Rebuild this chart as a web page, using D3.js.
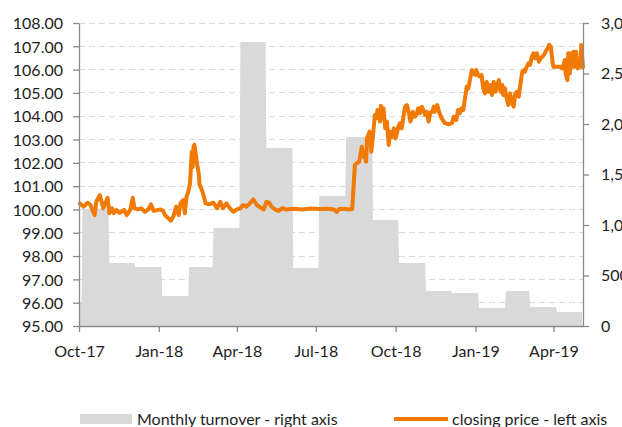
<!DOCTYPE html>
<html>
<head>
<meta charset="utf-8">
<script src="https://cdn.jsdelivr.net/npm/d3@7/dist/d3.min.js"></script>
<style>
  html, body { margin: 0; padding: 0; background: #ffffff; }
  svg { display: block; font-family: Lato, "Open Sans", sans-serif; }
</style>
</head>
<body>
<svg id="chart" width="622" height="427"></svg>
<script>
// ---------- DATA ----------
const turnoverMonths = ["2017-09","2017-10","2017-11","2017-12","2018-01","2018-02","2018-03","2018-04","2018-05","2018-06","2018-07","2018-08","2018-09","2018-10","2018-11","2018-12","2019-01","2019-02","2019-03","2019-04"];
const turnoverValues = [238,1160,624,584,297,584,970,2812,1762,574,1287,1871,1049,624,346,327,178,346,188,139];

const priceDates = [
 "2017-10-02","2017-10-06","2017-10-11","2017-10-14","2017-10-19","2017-10-21","2017-10-25","2017-10-29",
 "2017-11-01","2017-11-03","2017-11-05","2017-11-08","2017-11-10","2017-11-13","2017-11-17","2017-11-22","2017-11-25","2017-11-29",
 "2017-12-02","2017-12-04","2017-12-08","2017-12-12","2017-12-16","2017-12-20","2017-12-23","2017-12-26","2017-12-30",
 "2018-01-03","2018-01-06","2018-01-08","2018-01-12","2018-01-15","2018-01-18","2018-01-21","2018-01-24","2018-01-26","2018-01-29","2018-01-31",
 "2018-02-02","2018-02-04","2018-02-06","2018-02-07","2018-02-08","2018-02-09","2018-02-10","2018-02-11","2018-02-13","2018-02-14","2018-02-16","2018-02-17","2018-02-19","2018-02-22","2018-02-24","2018-02-28",
 "2018-03-05","2018-03-09","2018-03-13","2018-03-16","2018-03-20","2018-03-24","2018-03-28",
 "2018-04-01","2018-04-05","2018-04-08","2018-04-12","2018-04-16","2018-04-20","2018-04-24","2018-04-28",
 "2018-05-02","2018-05-05","2018-05-08","2018-05-11","2018-05-15","2018-05-19","2018-05-23","2018-05-28",
 "2018-06-05","2018-06-15","2018-06-25","2018-07-05","2018-07-15","2018-07-22","2018-07-25","2018-07-28",
 "2018-08-03","2018-08-08","2018-08-12","2018-08-15","2018-08-17","2018-08-20","2018-08-23","2018-08-24","2018-08-25","2018-08-28","2018-08-29",
 "2018-09-01","2018-09-03","2018-09-05","2018-09-07","2018-09-09","2018-09-10","2018-09-13","2018-09-14","2018-09-16","2018-09-17","2018-09-19","2018-09-21","2018-09-23","2018-09-25","2018-09-27","2018-09-29",
 "2018-10-01","2018-10-03","2018-10-04","2018-10-06","2018-10-08","2018-10-10","2018-10-12","2018-10-14","2018-10-16","2018-10-18","2018-10-20","2018-10-21","2018-10-23","2018-10-25","2018-10-27","2018-10-29","2018-10-31",
 "2018-11-02","2018-11-04","2018-11-06","2018-11-08","2018-11-10","2018-11-12","2018-11-14","2018-11-15","2018-11-18","2018-11-20","2018-11-23","2018-11-27",
 "2018-12-01","2018-12-05","2018-12-07","2018-12-10","2018-12-12","2018-12-14","2018-12-16","2018-12-18","2018-12-20","2018-12-22","2018-12-24","2018-12-26","2018-12-28","2018-12-30",
 "2019-01-01","2019-01-02","2019-01-04","2019-01-06","2019-01-08","2019-01-10","2019-01-12","2019-01-14","2019-01-16","2019-01-18","2019-01-20","2019-01-22","2019-01-24","2019-01-26","2019-01-28","2019-01-30",
 "2019-02-01","2019-02-02","2019-02-04","2019-02-06","2019-02-08","2019-02-10","2019-02-12","2019-02-14","2019-02-16","2019-02-18","2019-02-20","2019-02-22","2019-02-24","2019-02-26","2019-02-27",
 "2019-03-01","2019-03-03","2019-03-05","2019-03-07","2019-03-09","2019-03-11","2019-03-13","2019-03-15","2019-03-17","2019-03-19","2019-03-21","2019-03-23","2019-03-25","2019-03-27","2019-03-29","2019-03-30","2019-03-31",
 "2019-04-01","2019-04-05","2019-04-09","2019-04-11","2019-04-12","2019-04-14","2019-04-15","2019-04-17","2019-04-18","2019-04-20","2019-04-21","2019-04-23","2019-04-24","2019-04-26","2019-04-27","2019-04-29","2019-04-30",
 "2019-05-02","2019-05-03","2019-05-05"
];
const priceValues = [
 100.26,100.12,100.29,100.20,99.76,100.33,100.62,100.05,
 100.33,100.50,99.84,100.05,99.84,99.98,99.85,99.98,99.76,99.98,
 100.50,100.05,100.00,100.05,99.90,100.00,100.22,99.94,99.97,
 100.00,99.94,99.76,99.62,99.52,99.72,100.12,99.76,100.26,100.40,99.84,
 100.55,100.76,101.12,101.82,102.48,101.82,102.69,102.77,102.27,101.98,101.55,101.05,100.91,100.55,100.26,100.22,
 100.29,100.05,100.33,100.05,100.26,100.05,99.90,
 100.00,100.05,100.19,100.12,100.26,100.43,100.19,100.09,
 100.00,100.33,100.29,100.12,100.00,99.94,100.05,100.00,
 100.03,100.00,100.04,100.02,100.03,100.00,99.90,100.02,
 100.03,100.00,100.02,101.90,101.98,102.05,102.69,102.27,102.48,102.05,103.05,
 103.34,102.48,103.19,104.05,103.91,104.27,103.77,104.45,103.91,104.34,103.48,103.77,102.77,103.34,103.12,103.48,
 103.05,103.34,103.55,103.70,103.48,103.98,104.41,104.48,104.19,103.77,103.98,104.19,103.98,104.05,104.34,104.13,104.41,
 104.27,104.05,104.19,103.77,104.15,104.19,104.41,104.19,104.48,104.19,103.91,103.70,
 103.65,103.70,103.98,103.84,104.27,104.13,104.34,104.27,104.77,105.27,105.20,105.63,105.98,105.84,
 105.77,105.98,105.77,105.70,105.77,105.20,104.98,105.48,105.05,105.34,104.91,105.48,105.05,105.27,105.55,105.05,
 105.34,104.91,105.20,104.77,104.48,104.98,104.62,104.41,104.98,105.05,104.84,105.41,105.91,105.98,105.91,
 106.12,106.27,106.20,106.55,106.70,106.48,106.70,106.34,106.48,106.55,106.63,106.77,106.91,107.06,106.98,106.63,106.27,
 106.12,106.12,106.12,106.05,106.12,106.41,105.84,105.55,106.70,105.84,106.70,106.12,106.77,106.12,106.77,106.05,106.41,
 106.12,107.06,106.10
];

const leftTicks = [95,96,97,98,99,100,101,102,103,104,105,106,107,108];
const rightTicks = [0,500,1000,1500,2000,2500,3000];
const xTickDates = ["2017-10-01","2018-01-01","2018-04-01","2018-07-01","2018-10-01","2019-01-01","2019-04-01"];
const xDomain = ["2017-10-01","2019-05-05"];
const legendLabels = ["Monthly turnover - right axis", "closing price - left axis"];

// ---------- SETUP ----------
const parseDay = d3.timeParse("%Y-%m-%d");
const parseMonth = d3.timeParse("%Y-%m");
const plot = { left: 79, right: 583, top: 23, bottom: 326 };
const textColor = "#1e1e1e";
const axisColor = "#8a8a8a";
const gridColor = "#d9d9d9";
const areaColor = "#d9d9d9";
const lineColor = "#f07a04";

const svg = d3.select("#chart");

const x = d3.scaleTime().domain(xDomain.map(parseDay)).range([plot.left, plot.right]);
const yL = d3.scaleLinear().domain([95,108]).range([plot.bottom, plot.top]);
const yR = d3.scaleLinear().domain([0,3000]).range([plot.bottom, plot.top]);

svg.append("defs").append("clipPath").attr("id","clip")
  .append("rect").attr("x", plot.left).attr("y", plot.top)
  .attr("width", plot.right - plot.left).attr("height", plot.bottom - plot.top);

// gridlines
svg.append("g").selectAll("line")
  .data(leftTicks.filter(t => t > 95))
  .join("line")
  .attr("x1", plot.left).attr("x2", plot.right)
  .attr("y1", d => yL(d)).attr("y2", d => yL(d))
  .attr("stroke", gridColor).attr("stroke-width", 1)
  .attr("stroke-dasharray", "6,4")
  .attr("shape-rendering", "crispEdges");

// turnover step area (monthly values, each shown for its month)
const turnoverPts = [];
turnoverMonths.forEach((m, i) => {
  const start = d3.timeDay.offset(parseMonth(m), 4);
  const end = d3.timeDay.offset(d3.timeMonth.offset(parseMonth(m), 1), 3);
  turnoverPts.push({ date: start, v: turnoverValues[i] });
  turnoverPts.push({ date: end, v: turnoverValues[i] });
});
const area = d3.area()
  .x(d => x(d.date)).y0(plot.bottom).y1(d => yR(d.v));
svg.append("path")
  .datum(turnoverPts)
  .attr("clip-path", "url(#clip)")
  .attr("fill", areaColor)
  .attr("d", area);

// price line
const priceData = priceDates.map((d, i) => ({ date: parseDay(d), v: priceValues[i] }));
const line = d3.line().x(d => x(d.date)).y(d => yL(d.v));
svg.append("path")
  .datum(priceData)
  .attr("fill", "none")
  .attr("stroke", lineColor)
  .attr("stroke-width", 4)
  .attr("stroke-linejoin", "round")
  .attr("stroke-linecap", "round")
  .attr("d", line);

// axes
function styleAxis(g) {
  g.select(".domain").attr("stroke", axisColor).attr("stroke-width", 1.3);
  g.selectAll(".tick line").attr("stroke", axisColor).attr("stroke-width", 1.3);
  g.selectAll(".tick text").attr("fill", textColor).style("font-size", "16px")
    .style("font-family", "Lato, 'Open Sans', sans-serif");
}

const gL = svg.append("g").attr("transform", `translate(${plot.left},0)`)
  .call(d3.axisLeft(yL).tickValues(leftTicks).tickFormat(d3.format(".2f"))
    .tickSize(6).tickSizeOuter(0).tickPadding(10));
styleAxis(gL);
gL.selectAll(".tick text").attr("dy", "0.36em");

const gR = svg.append("g").attr("transform", `translate(${plot.right},0)`)
  .call(d3.axisRight(yR).tickValues(rightTicks).tickFormat(d3.format(","))
    .tickSize(6).tickSizeOuter(0).tickPadding(12));
styleAxis(gR);

const gB = svg.append("g").attr("transform", `translate(0,${plot.bottom})`)
  .call(d3.axisBottom(x).tickValues(xTickDates.map(parseDay)).tickFormat(d3.timeFormat("%b-%y"))
    .tickSize(6).tickSizeOuter(0));
styleAxis(gB);
gB.selectAll(".tick text").attr("y", 31).attr("dy", 0);

// legend
const lg = svg.append("g");
lg.append("rect").attr("x", 80).attr("y", 414).attr("width", 52).attr("height", 10).attr("fill", areaColor);
lg.append("text").attr("x", 137).attr("y", 425).attr("fill", textColor)
  .style("font-size", "16px").text(legendLabels[0]);
lg.append("line").attr("x1", 394).attr("x2", 448).attr("y1", 419).attr("y2", 419)
  .attr("stroke", lineColor).attr("stroke-width", 4);
lg.append("text").attr("x", 452).attr("y", 425).attr("fill", textColor)
  .style("font-size", "16px").text(legendLabels[1]);
</script>
</body>
</html>
